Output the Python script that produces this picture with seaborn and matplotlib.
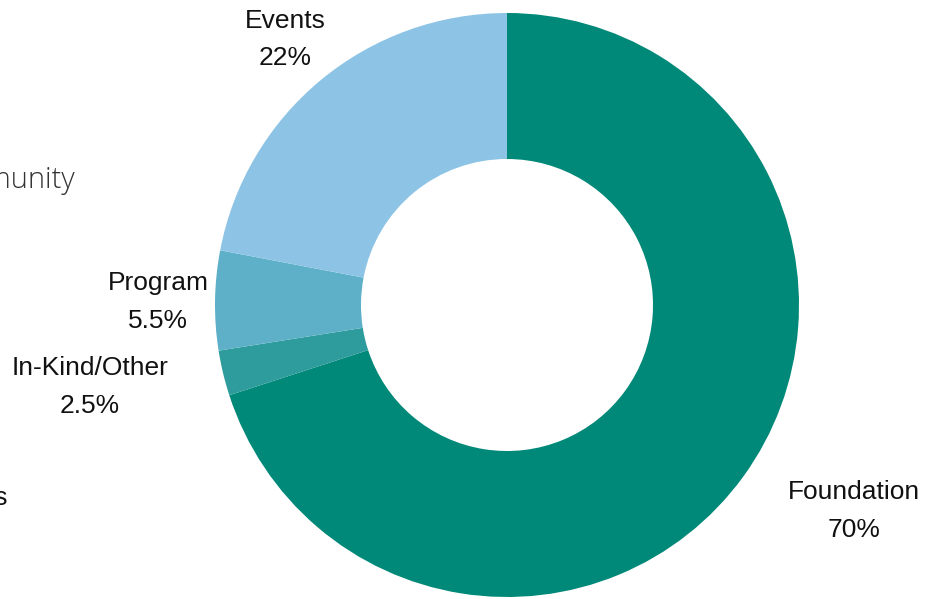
import numpy as np
import seaborn as sns
import matplotlib.pyplot as plt

# revenue sources (share of total, %)
sources = ["Foundation", "In-Kind/Other", "Program", "Events"]
shares = [70, 2.5, 5.5, 22]
share_labels = ["70%", "2.5%", "5.5%", "22%"]
colors = ["#008878", "#2e9c9c", "#5eb0c8", "#8dc4e5"]

sns.set_theme(style="white")
plt.rcParams["font.family"] = ["Liberation Sans", "DejaVu Sans"]

fig = plt.figure(figsize=(9.26, 5.99), dpi=100)
ax = fig.add_axes([0, 0, 1, 1])

wedges, _ = ax.pie(shares, colors=sns.color_palette(colors), startangle=90,
                   counterclock=False, radius=1.0,
                   wedgeprops=dict(width=0.5, linewidth=0))

# label placement: distance from centre and angular nudge (degrees)
label_dist = [1.377, 1.455, 1.195, 1.19]
label_nudge = [5.6, -2.7, 0.0, 0.0]
for w, name, pct, d, nudge in zip(wedges, sources, share_labels, label_dist, label_nudge):
    ang = np.deg2rad((w.theta1 + w.theta2) / 2 + nudge)
    ax.text(d * np.cos(ang), d * np.sin(ang) - 0.008, f"{name}\n{pct}",
            ha="center", va="center", fontsize=19, color="#111111",
            linespacing=1.72)

# neighbouring panel text that bleeds in from the left
ax.text((75 - 507) / 292, (305 - 180) / 292, "Community", ha="right", va="center",
        fontsize=21, color="#333333", family=["Open Sans", "DejaVu Sans"],
        fontweight="light")
ax.text((8 - 507) / 292, (305 - 498) / 292, "Grants", ha="right", va="center",
        fontsize=19, color="#111111")

ax.set_aspect("equal")
ax.set_xlim(-507 / 292, 419 / 292)
ax.set_ylim(-294 / 292, 305 / 292)
ax.axis("off")

fig.savefig("out.png", dpi=100, facecolor="white")
